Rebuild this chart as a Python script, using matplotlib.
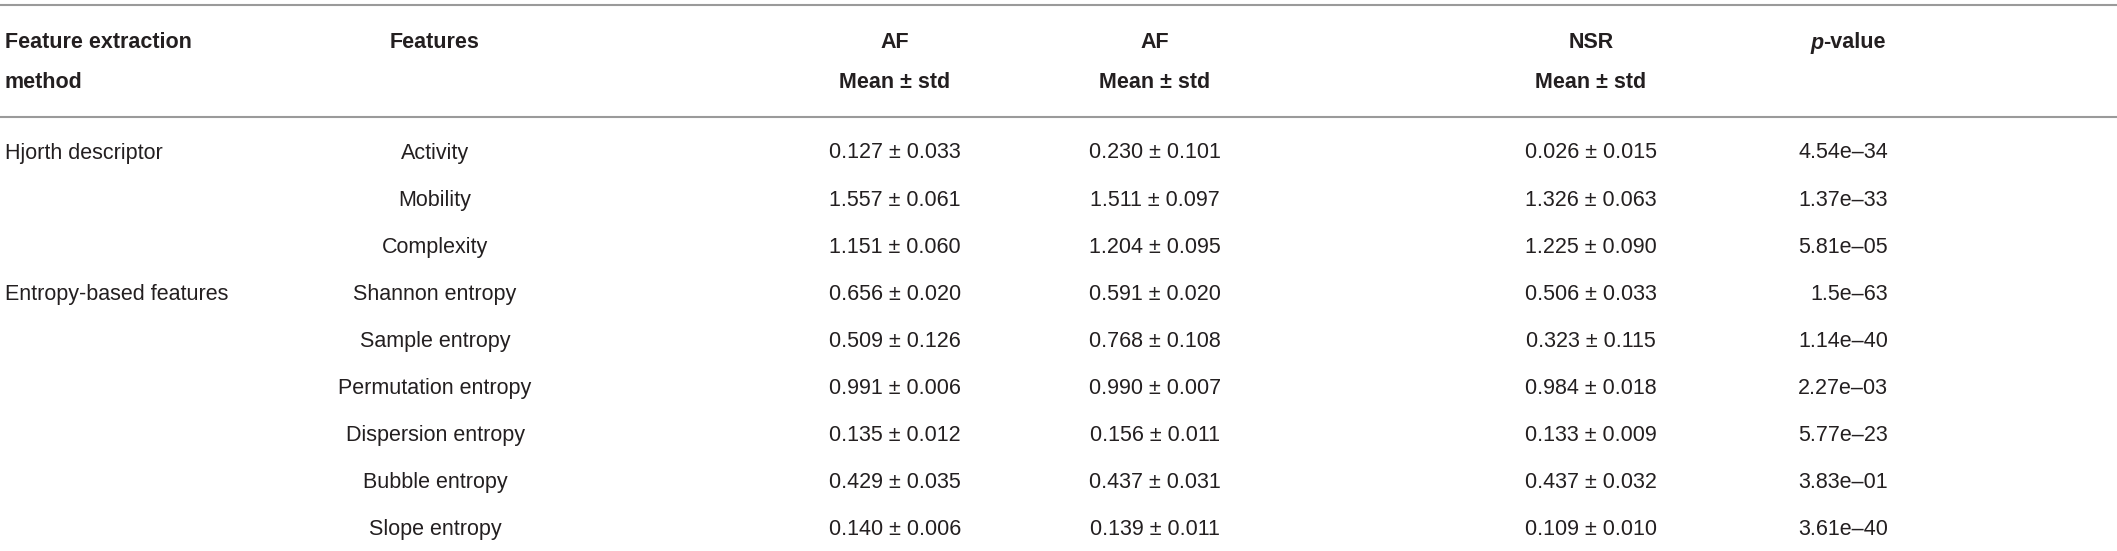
import matplotlib
matplotlib.use("Agg")
import matplotlib.pyplot as plt

# table contents
methods = ["Hjorth descriptor", "", "", "Entropy-based features", "", "", "", "", ""]
features = ["Activity", "Mobility", "Complexity", "Shannon entropy", "Sample entropy",
            "Permutation entropy", "Dispersion entropy", "Bubble entropy", "Slope entropy"]
af1 = ["0.127 \u00b1 0.033", "1.557 \u00b1 0.061", "1.151 \u00b1 0.060", "0.656 \u00b1 0.020",
       "0.509 \u00b1 0.126", "0.991 \u00b1 0.006", "0.135 \u00b1 0.012", "0.429 \u00b1 0.035",
       "0.140 \u00b1 0.006"]
af2 = ["0.230 \u00b1 0.101", "1.511 \u00b1 0.097", "1.204 \u00b1 0.095", "0.591 \u00b1 0.020",
       "0.768 \u00b1 0.108", "0.990 \u00b1 0.007", "0.156 \u00b1 0.011", "0.437 \u00b1 0.031",
       "0.139 \u00b1 0.011"]
nsr = ["0.026 \u00b1 0.015", "1.326 \u00b1 0.063", "1.225 \u00b1 0.090", "0.506 \u00b1 0.033",
       "0.323 \u00b1 0.115", "0.984 \u00b1 0.018", "0.133 \u00b1 0.009", "0.437 \u00b1 0.032",
       "0.109 \u00b1 0.010"]
pvals = ["4.54e\u201334", "1.37e\u201333", "5.81e\u201305", "1.5e\u201363", "1.14e\u201340",
         "2.27e\u201303", "5.77e\u201323", "3.83e\u201301", "3.61e\u201340"]

W, H = 2117, 551
FONT = "Liberation Sans"
FS = 15.5
TXT = "#231f20"
RULE = "#9a9a9a"

fig = plt.figure(figsize=(W / 100, H / 100), dpi=100)
ax = fig.add_axes([0, 0, 1, 1])
ax.set_xlim(0, W)
ax.set_ylim(H, 0)
ax.axis("off")

# horizontal rules
ax.axhline(5, color=RULE, lw=1.5)
ax.axhline(117, color=RULE, lw=1.5)

hdr = dict(fontsize=FS, fontweight="bold", color=TXT, family=FONT, va="center")
ax.text(5, 43, "Feature extraction", ha="left", **hdr)
ax.text(5, 82, "method", ha="left", **hdr)
ax.text(435, 43, "Features", ha="center", **hdr)
col_x = [895, 1155, 1591]
for x, name in zip(col_x, ["AF", "AF", "NSR"]):
    ax.text(x, 43, name, ha="center", **hdr)
    ax.text(x, 82, "Mean \u00b1 std", ha="center", **hdr)

# p-value header: italic p followed by bold -value
p_t = ax.text(1810, 43, "p", ha="left", style="italic", **hdr)
fig.canvas.draw()
bb = p_t.get_window_extent().transformed(ax.transData.inverted())
ax.text(bb.x1, 43, "-value", ha="left", **hdr)

body = dict(fontsize=FS, color=TXT, family=FONT, va="center")
y0, dy = 153, 47.1
for i in range(len(features)):
    y = y0 + i * dy
    if methods[i]:
        ax.text(5, y, methods[i], ha="left", **body)
    ax.text(435, y, features[i], ha="center", **body)
    ax.text(col_x[0], y, af1[i], ha="center", **body)
    ax.text(col_x[1], y, af2[i], ha="center", **body)
    ax.text(col_x[2], y, nsr[i], ha="center", **body)
    ax.text(1888, y, pvals[i], ha="right", **body)

fig.savefig("out.png", dpi=100, facecolor="white")
